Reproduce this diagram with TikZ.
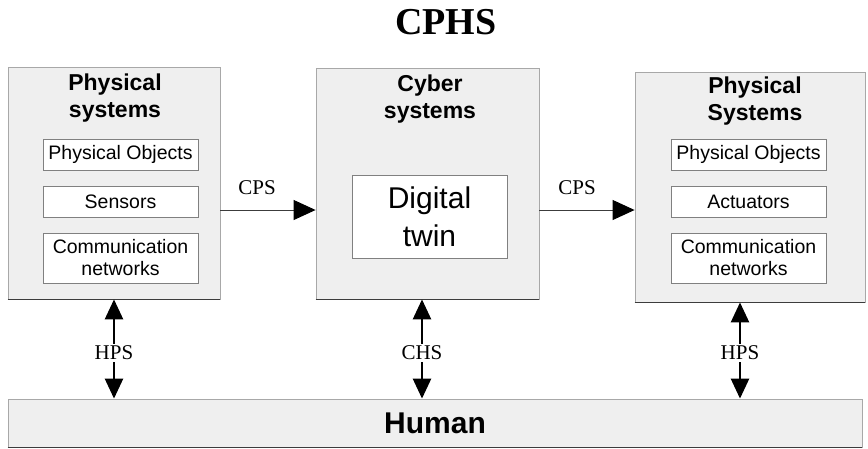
\documentclass[tikz,border=0pt]{standalone}
\usepackage{fontspec}
\setmainfont{Liberation Serif}
\setsansfont{Liberation Sans}
\usepackage{xcolor}
\definecolor{fondgris}{HTML}{EFEFEF}
\definecolor{bordgris}{HTML}{A8A8A8}
\definecolor{traitfonce}{HTML}{3C3C3C}
\usepackage{tikz}
\usetikzlibrary{arrows.meta}

\begin{document}
\begin{tikzpicture}[x=1pt,y=-1pt,
  sysbox/.style={draw=bordgris,fill=fondgris,thick},
  subbox/.style={draw=gray,fill=white,thick,minimum width=155,align=center,
    font=\sffamily\fontsize{19.5}{22}\selectfont},
  titre/.style={align=center,font=\sffamily\bfseries\fontsize{23}{27}\selectfont},
  lbl/.style={font=\fontsize{21}{24}\selectfont,inner sep=2pt},
  ombre/.style={traitfonce,line width=1.2pt},
  flow/.style={-{Triangle[length=22pt,width=20pt,black]},traitfonce,line width=1pt},
  link/.style={-{Triangle[length=20pt,width=18pt]},black,line width=2.6pt}
]
\useasboundingbox (0,0) rectangle (868,448);
% ---- titre ----
\node[font=\bfseries\fontsize{38}{40}\selectfont] (cphs) at (446,22) {CPHS};
% ---- blocs ----
\node[sysbox,minimum width=212,minimum height=232] (physL) at (114,183) {};
\node[sysbox,minimum width=223,minimum height=231] (cyber) at (427.5,183.5) {};
\node[sysbox,minimum width=230,minimum height=230] (physR) at (750,187) {};
\node[sysbox,minimum width=854,minimum height=48] (human) at (435,423)
  {\sffamily\bfseries\fontsize{30}{32}\selectfont Human};
\foreach \b in {physL,cyber,physR,human}
  \draw[ombre] (\b.south west) -- (\b.south east);
\node[titre] (tPhysL) at (115,98.5) {Physical\\systems};
\node[titre] (tCyber) at (430,99) {Cyber\\systems};
\node[titre] (tPhysR) at (755,101.5) {Physical\\Systems};
% ---- composants ----
\node[subbox,minimum height=31] (objL) at (120.5,154.5) {Physical Objects};
\node[subbox,minimum height=31] (sens) at (120.5,202) {Sensors};
\node[subbox,minimum height=50] (commL) at (120.5,258) {Communication\\networks};
\node[subbox,minimum height=83,font=\sffamily\fontsize{30}{38}\selectfont] (twin) at (429.5,216.5) {Digital\\twin};
\node[subbox,minimum height=31] (objR) at (748.5,154.5) {Physical Objects};
\node[subbox,minimum height=31] (act) at (748.5,202) {Actuators};
\node[subbox,minimum height=50] (commR) at (748.5,258) {Communication\\networks};
% ---- liaisons CPS ----
\coordinate (cpsrow) at (0,210);
\draw[flow] (physL.east |- cpsrow) -- (cyber.west |- cpsrow);
\draw[flow] (cyber.east |- cpsrow) -- (physR.west |- cpsrow);
\node[lbl] (cps1) at (257,188) {CPS};
\node[lbl] (cps2) at (577,188) {CPS};
% ---- liaisons humaines ----
\foreach \n/\t/\x/\b in {hps1/HPS/114/physL, chs/CHS/422/cyber, hps2/HPS/740/physR}{
  \node[lbl] (\n) at (\x,353) {\t};
  \draw[link] (\n.north) -- (\n.north |- \b.south);
  \draw[link] (\n.south) -- (\n.south |- human.north);
}
\end{tikzpicture}
\end{document}
